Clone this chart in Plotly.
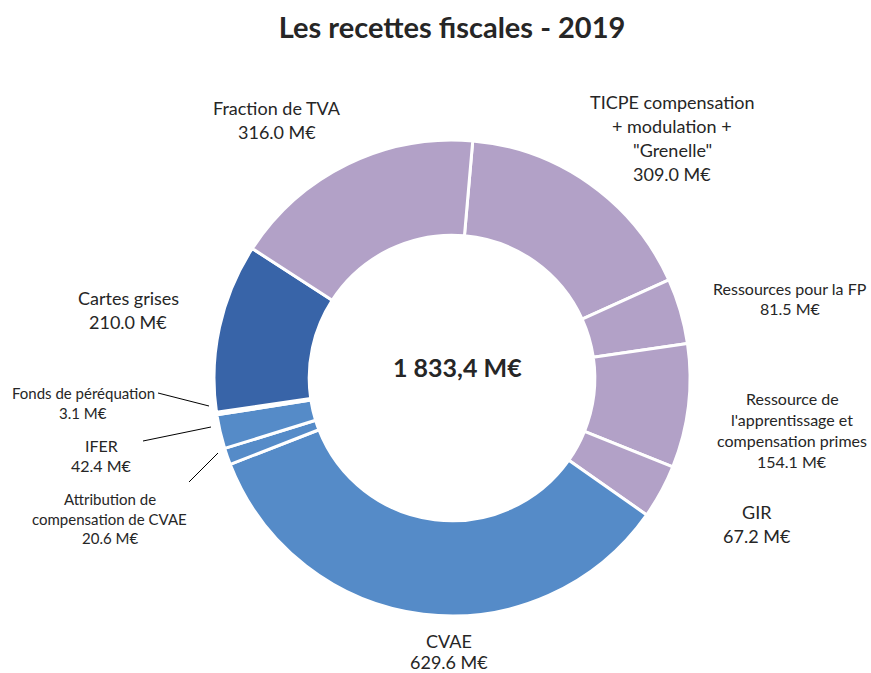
import plotly.graph_objects as go

# ---- data ----
labels = [
    "TICPE compensation<br>+ modulation +<br>\"Grenelle\"",
    "Ressources pour la FP",
    "Ressource de<br>l'apprentissage et<br>compensation primes",
    "GIR",
    "CVAE",
    "Attribution de<br>compensation de CVAE",
    "IFER",
    "Fonds de péréquation",
    "Cartes grises",
    "Fraction de TVA",
]
values = [309.0, 81.5, 154.1, 67.2, 629.6, 20.6, 42.4, 3.1, 210.0, 316.0]
total_text = "1 833,4 M€"
title_text = "Les recettes fiscales - 2019"

# ---- style ----
PURPLE = "#B2A1C7"
BLUE = "#558BC8"
DARK = "#3864A8"
colors = [PURPLE, PURPLE, PURPLE, PURPLE, BLUE, BLUE, BLUE, BLUE, DARK, PURPLE]

W, H = 871, 673
FONT = "Lato, 'Open Sans', sans-serif"
TXT = "#262626"

def px(x, y):
    return x / W, 1 - y / H

cx, cy, r = 452, 378, 238
x0, y0 = px(cx - r, cy + r)
x1, y1 = px(cx + r, cy - r)

fig = go.Figure(go.Pie(
    labels=labels,
    values=values,
    sort=False,
    direction="clockwise",
    rotation=5,
    hole=0.6,
    marker=dict(colors=colors, line=dict(color="white", width=3)),
    textinfo="none",
    hoverinfo="label+value",
    domain=dict(x=[x0, x1], y=[y0, y1]),
    showlegend=False,
))

# label layout per slice: centre x, first-line y, line spacing, font size
label_pos = [
    (672, 102, 24, 18), (790, 288, 21, 16), (792, 398, 21, 16), (757, 512, 24, 18),
    (449, 641, 21, 18), (110, 499, 19.5, 15), (101, 445, 20, 16), (83, 393, 20, 15),
    (128, 298, 24, 18), (277, 108, 24, 18),
]
annotations = []
for lab, v, (lx, ly, dy, fs) in zip(labels, values, label_pos):
    lines = lab.split("<br>") + [f"{v:.1f} M€"]
    for i, line in enumerate(lines):
        ax, ay = px(lx, ly + i * dy)
        annotations.append(dict(
            x=ax, y=ay, xref="paper", yref="paper", showarrow=False,
            text=line, align="center", borderpad=0,
            font=dict(family=FONT, size=fs, color=TXT),
            xanchor="center", yanchor="middle",
        ))

# centre total
tx, ty = px(cx + 5, 367)
annotations.append(dict(x=tx, y=ty, xref="paper", yref="paper", showarrow=False,
                        text=f"<b>{total_text}</b>", xanchor="center", yanchor="middle",
                        font=dict(family=FONT, size=25, color=TXT)))

# leader lines
leaders = [((158, 393), (209, 406)), ((143, 441), (211, 427)), ((189, 482), (218, 453))]
shapes = []
for (a, b) in leaders:
    ax_, ay_ = px(*a)
    bx_, by_ = px(*b)
    shapes.append(dict(type="line", xref="paper", yref="paper",
                       x0=ax_, y0=ay_, x1=bx_, y1=by_,
                       line=dict(color="black", width=1)))

fig.update_layout(
    width=W, height=H,
    margin=dict(l=0, r=0, t=0, b=0),
    paper_bgcolor="white", plot_bgcolor="white",
    title=dict(text=f"<b>{title_text}</b>", x=452 / W, xanchor="center",
               y=1 - 28 / H, yanchor="middle",
               font=dict(family=FONT, size=29, color=TXT)),
    annotations=annotations,
    shapes=shapes,
)

fig.write_html("out.html", config={"displayModeBar": False},
               post_script="document.body.style.margin='0px';")
